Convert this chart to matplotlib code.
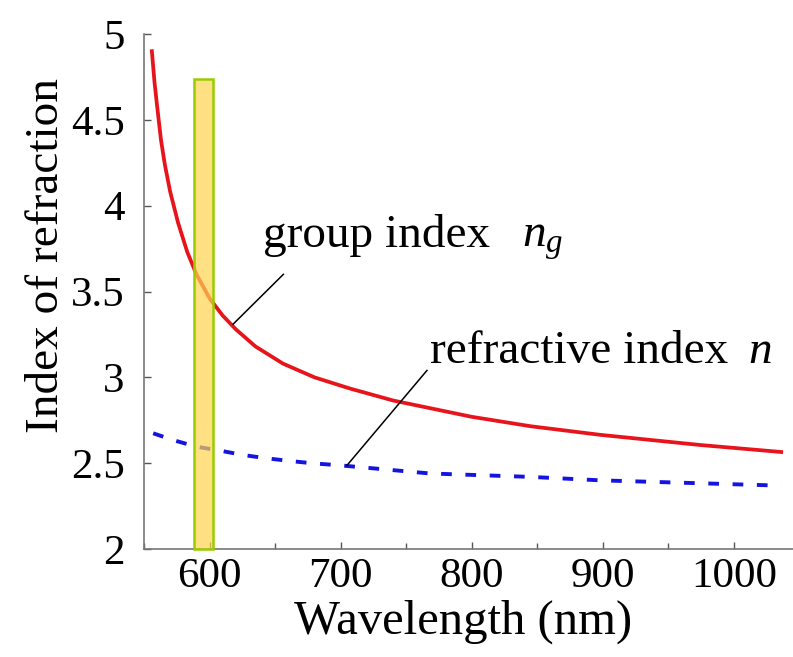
import matplotlib
matplotlib.use("Agg")
import matplotlib.pyplot as plt
from matplotlib.patches import Rectangle
from matplotlib.ticker import MultipleLocator, FuncFormatter

# ---- data ----
wavelength_g = [556, 558, 560, 563, 566, 570, 576, 583, 590, 600, 610, 620, 635, 656,
                680, 707, 740, 800, 845, 898, 974, 1036]
n_group = [4.90, 4.72, 4.58, 4.38, 4.235, 4.08, 3.90, 3.73, 3.60, 3.46, 3.36, 3.28,
           3.18, 3.08, 3.00, 2.935, 2.865, 2.77, 2.715, 2.665, 2.606, 2.565]

wavelength_n = [557, 572, 590, 608, 626, 644, 662, 679, 700, 768, 845, 898, 974, 1036]
n_phase = [2.674, 2.635, 2.596, 2.573, 2.547, 2.528, 2.512, 2.499, 2.487, 2.44,
           2.42, 2.40, 2.383, 2.369]

band_x = [588, 603]
band_top = 4.74

x_ticks = [600, 700, 800, 900, 1000]
y_ticks = [2, 2.5, 3, 3.5, 4, 4.5, 5]

plt.rcParams['font.family'] = ['Liberation Serif', 'DejaVu Serif']
plt.rcParams['mathtext.fontset'] = 'custom'
plt.rcParams['mathtext.rm'] = 'Liberation Serif'
plt.rcParams['mathtext.it'] = 'Liberation Serif:italic'

fig = plt.figure(figsize=(7.93, 6.57), dpi=100)
ax = fig.add_axes([144 / 793, 108 / 657, 1 - 144 / 793, (549 - 34) / 657])

ax.plot(wavelength_g, n_group, color='#E8141B', lw=2.7, solid_joinstyle='round', zorder=2)
ax.plot(wavelength_n, n_phase, color='#1414E0', lw=2.8, dashes=(2.75, 3.5), zorder=2)

ax.add_patch(Rectangle((band_x[0], 2), band_x[1] - band_x[0], band_top - 2,
                       facecolor='#FFD54F', alpha=0.7, edgecolor='none', zorder=3))
ax.add_patch(Rectangle((band_x[0], 2), band_x[1] - band_x[0], band_top - 2,
                       facecolor='none', edgecolor='#99CC00', lw=1.8, zorder=4,
                       clip_on=False))

# annotation leader lines
ax.plot([618, 656.3], [3.31, 3.60], color='black', lw=1.1, zorder=5)
ax.plot([704.8, 765.8], [2.487, 3.04], color='black', lw=1.1, zorder=5)

ax.text(640.8, 3.759, 'group index', fontsize=34, ha='left', va='baseline')
ax.text(838.4, 3.759, '$n_g$', fontsize=34, ha='left', va='baseline')
ax.text(768.3, 3.083, 'refractive index', fontsize=34, ha='left', va='baseline')
ax.text(1011, 3.083, '$n$', fontsize=34, ha='left', va='baseline')

ax.set_xlim(550, 1045)
ax.set_ylim(2, 5)
ax.set_xticks(x_ticks)
ax.xaxis.set_minor_locator(MultipleLocator(50))
ax.set_yticks(y_ticks)
ax.yaxis.set_major_formatter(FuncFormatter(lambda v, p: ('%g' % v)))

for s in ['top', 'right']:
    ax.spines[s].set_visible(False)
for s in ['left', 'bottom']:
    ax.spines[s].set_color('#777777')
    ax.spines[s].set_linewidth(1.2)

ax.tick_params(axis='both', which='both', direction='in', color='#555555',
               labelsize=31, width=1.0)
ax.tick_params(axis='both', which='major', length=5)
ax.tick_params(axis='x', which='minor', length=4)
ax.tick_params(axis='x', pad=6)
ax.tick_params(axis='y', pad=14)

ax.set_xlabel('Wavelength (nm)', fontsize=35, labelpad=3, x=0.492)
ax.set_ylabel('Index of refraction', fontsize=34, labelpad=2, y=0.569)

fig.savefig('out.png', dpi=100)
